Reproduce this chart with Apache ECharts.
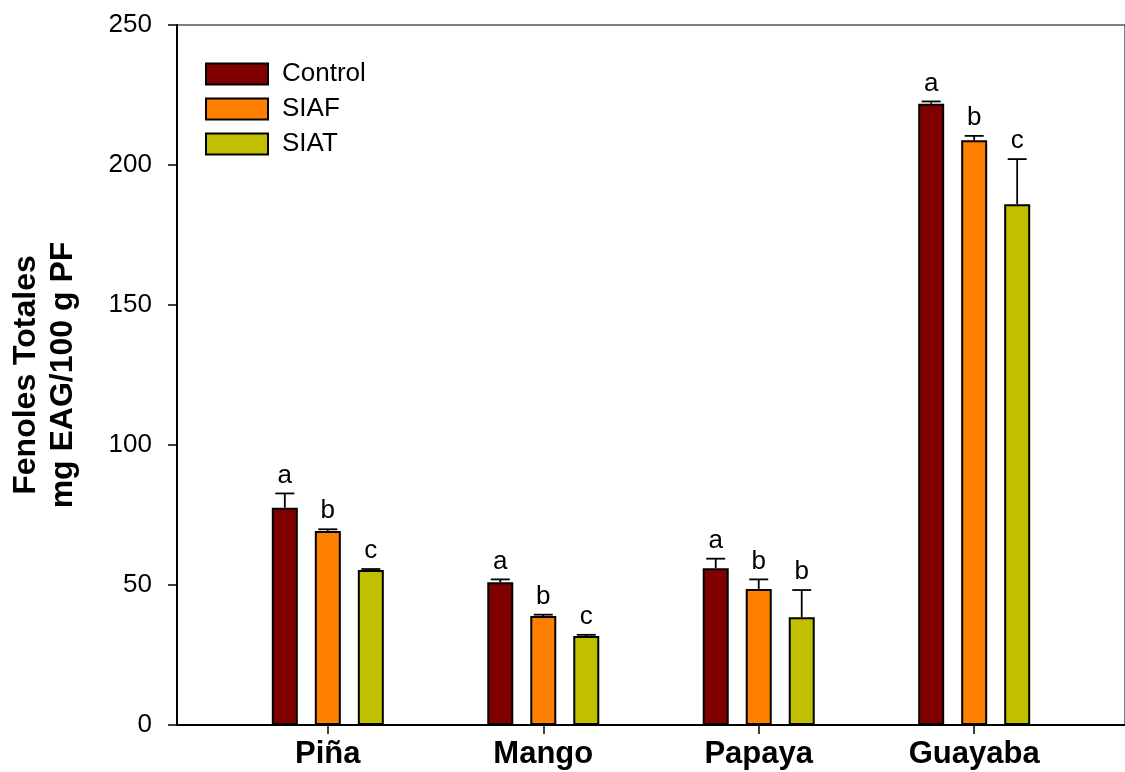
<!DOCTYPE html>
<html>
<head>
<meta charset="utf-8">
<script src="https://cdn.jsdelivr.net/npm/echarts@6/dist/echarts.min.js"></script>
<style>
html,body{margin:0;padding:0;background:#fff;}
#chart{width:1125px;height:772px;}
</style>
</head>
<body>
<div id="chart"></div>
<script>
// ---- data ----
const categories = ['Piña', 'Mango', 'Papaya', 'Guayaba'];
const seriesNames = ['Control', 'SIAF', 'SIAT'];
const controlValues = [77.6, 51.0, 56.0, 221.9];
const controlErrors = [5.1, 1.0, 3.4, 0.8];
const siafValues = [69.3, 38.9, 48.6, 208.8];
const siafErrors = [0.6, 0.5, 3.4, 1.6];
const siatValues = [55.4, 31.8, 38.5, 186.0];
const siatErrors = [0.3, 0.4, 9.7, 16.1];
const controlLetters = ['a', 'a', 'a', 'a'];
const siafLetters = ['b', 'b', 'b', 'b'];
const siatLetters = ['c', 'c', 'b', 'c'];
const yTicks = [0, 50, 100, 150, 200, 250];

// ---- styling ----
const FONT = 'Arial, "Liberation Sans", sans-serif';
const colors = ['#800000', '#FF8000', '#C0C000'];
const BAR_W = 26;
const BAR_GAP = 17;
const CAP_W = 19;

const values = [controlValues, siafValues, siatValues];
const errors = [controlErrors, siafErrors, siatErrors];
const letters = [controlLetters, siafLetters, siatLetters];
const xPos = categories.map((c, i) => i + 1);

const chart = echarts.init(document.getElementById('chart'), null, {renderer: 'canvas'});

const barSeries = seriesNames.map((name, s) => ({
  name: name,
  type: 'bar',
  barWidth: BAR_W,
  barGap: (BAR_GAP / BAR_W * 100).toFixed(1) + '%',
  itemStyle: {color: colors[s], borderColor: '#000', borderWidth: 2},
  data: xPos.map((x, i) => [x, values[s][i]]),
  z: 2
}));

const errSeries = seriesNames.map((name, s) => ({
  type: 'custom',
  name: name + '_err',
  coordinateSystem: 'cartesian2d',
  clip: false,
  z: 5,
  silent: true,
  data: xPos.map((x, i) => [x, values[s][i], errors[s][i], letters[s][i]]),
  renderItem: function (params, api) {
    const x = api.value(0), v = api.value(1), e = api.value(2);
    const letter = letters[s][params.dataIndex];
    const base = api.coord([x, v]);
    const top = api.coord([x, v + e]);
    const cx = base[0] + (s - 1) * (BAR_W + BAR_GAP);
    return {
      type: 'group',
      children: [
        {type: 'line', shape: {x1: cx, y1: base[1], x2: cx, y2: top[1]}, style: {stroke: '#000', lineWidth: 1.8}},
        {type: 'line', shape: {x1: cx - CAP_W / 2, y1: top[1], x2: cx + CAP_W / 2, y2: top[1]}, style: {stroke: '#000', lineWidth: 1.8}},
        {type: 'text', x: cx, y: top[1] - 5, style: {text: letter, fill: '#000', font: '26px ' + FONT, textAlign: 'center', textVerticalAlign: 'bottom'}}
      ]
    };
  }
}));

chart.setOption({
  animation: false,
  backgroundColor: '#fff',
  grid: {left: 173, right: 0, top: 25, bottom: 47, show: true, borderColor: '#000', borderWidth: 1, containLabel: false},
  legend: {
    data: seriesNames,
    orient: 'vertical',
    left: 200,
    top: 56,
    itemWidth: 62,
    itemHeight: 21,
    itemGap: 9,
    icon: 'rect',
    textStyle: {fontFamily: FONT, fontSize: 26, color: '#000', padding: [0, 0, 0, 9]}
  },
  xAxis: {
    type: 'value',
    min: 0.3,
    max: 4.7,
    splitLine: {show: false},
    axisLine: {show: true, lineStyle: {color: '#000', width: 2}},
    axisTick: {show: true, customValues: xPos, length: 9, lineStyle: {color: '#000', width: 1.5}},
    axisLabel: {
      customValues: xPos,
      formatter: function (v) { return categories[Math.round(v) - 1] || ''; },
      fontFamily: FONT, fontSize: 31, fontWeight: 'bold', color: '#000', margin: 14
    }
  },
  yAxis: {
    type: 'value',
    min: yTicks[0],
    max: yTicks[yTicks.length - 1],
    interval: 50,
    splitLine: {show: false},
    axisLine: {show: true, lineStyle: {color: '#000', width: 2}},
    axisTick: {show: true, length: 9, lineStyle: {color: '#000', width: 1.5}},
    axisLabel: {fontFamily: FONT, fontSize: 26, color: '#000', margin: 25},
    name: 'Fenoles Totales\nmg EAG/100 g PF',
    nameLocation: 'middle',
    nameGap: 95,
    nameTextStyle: {fontFamily: FONT, fontSize: 32, fontWeight: 'bold', color: '#000', lineHeight: 37, align: 'center'}
  },
  series: barSeries.concat(errSeries)
});
</script>
</body>
</html>
